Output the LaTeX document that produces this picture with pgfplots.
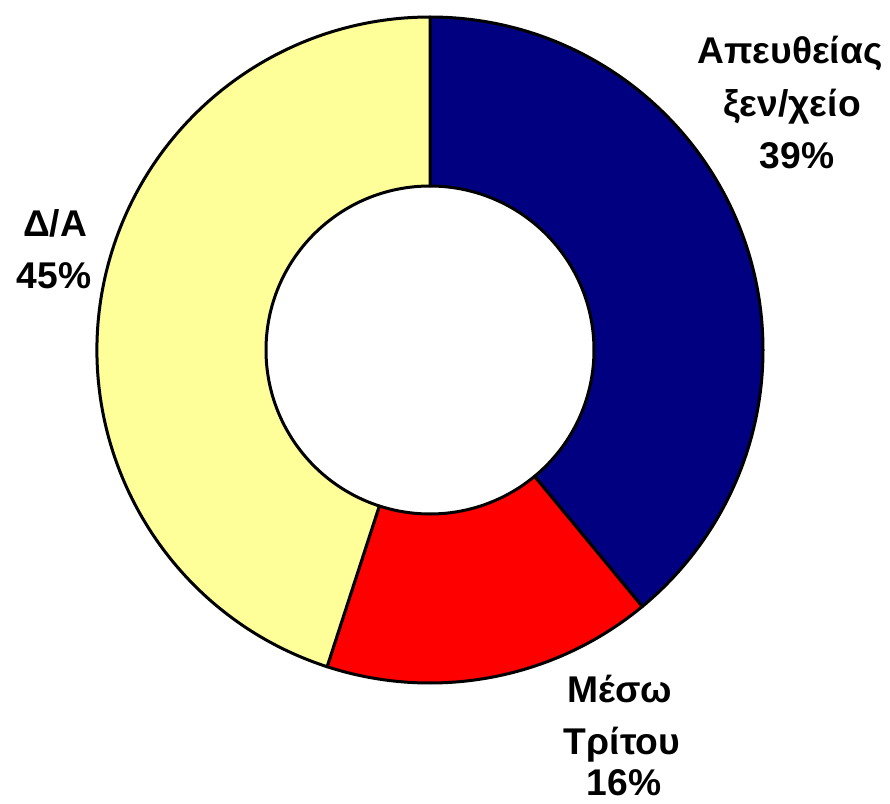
\documentclass[border=0pt]{standalone}
\usepackage{pgfplots}
\pgfplotsset{compat=1.18}
\usepackage{pgfplotstable}
\usepackage{fontspec}
\setmainfont{Liberation Sans}
\usetikzlibrary{calc}
\definecolor{navyc}{HTML}{000080}
\definecolor{redc}{HTML}{FF0000}
\definecolor{yelc}{HTML}{FFFF99}
\pgfplotstableread{
share
39
16
45
}\data
\pgfplotstablegetelem{0}{share}\of\data \let\vA\pgfplotsretval
\pgfplotstablegetelem{1}{share}\of\data \let\vB\pgfplotsretval
\pgfplotstablegetelem{2}{share}\of\data \let\vC\pgfplotsretval
\pgfmathsetmacro\aA{90}
\pgfmathsetmacro\aB{90-3.6*\vA}
\pgfmathsetmacro\aC{\aB-3.6*\vB}
\pgfmathsetmacro\aD{\aC-3.6*\vC}
\def\Ro{166.5pt}
\def\Ri{82pt}
\newcommand\lab[3]{\node[anchor=base,font=\fontsize{18.6pt}{22pt}\selectfont\bfseries,inner sep=0pt] at (axis cs:#1,#2) {#3};}
\begin{document}
\begin{tikzpicture}
\begin{axis}[width=445pt,height=402pt,scale only axis,hide axis,
  xmin=0,xmax=890,ymin=0,ymax=804,y dir=reverse,clip=false]
\draw[draw=none] (axis cs:0,0) rectangle (axis cs:890,804);
\fill[navyc,draw=black,line width=1.5pt,line join=round]
  ($(axis cs:430,350)+(\aA:\Ro)$) arc[start angle=\aA,end angle=\aB,radius=\Ro]
  -- ($(axis cs:430,350)+(\aB:\Ri)$) arc[start angle=\aB,end angle=\aA,radius=\Ri] -- cycle;
\fill[redc,draw=black,line width=1.5pt,line join=round]
  ($(axis cs:430,350)+(\aB:\Ro)$) arc[start angle=\aB,end angle=\aC,radius=\Ro]
  -- ($(axis cs:430,350)+(\aC:\Ri)$) arc[start angle=\aC,end angle=\aB,radius=\Ri] -- cycle;
\fill[yelc,draw=black,line width=1.5pt,line join=round]
  ($(axis cs:430,350)+(\aC:\Ro)$) arc[start angle=\aC,end angle=\aD,radius=\Ro]
  -- ($(axis cs:430,350)+(\aD:\Ri)$) arc[start angle=\aD,end angle=\aC,radius=\Ri] -- cycle;
\lab{790}{63}{Απευθείας}
\lab{792}{116}{ξεν/χείο}
\lab{797}{168}{39\%}
\lab{55}{236}{Δ/Α}
\lab{54}{288}{45\%}
\lab{620}{702}{Μέσω}
\lab{622}{754}{Τρίτου}
\lab{624}{795}{16\%}
\end{axis}
\end{tikzpicture}
\end{document}
